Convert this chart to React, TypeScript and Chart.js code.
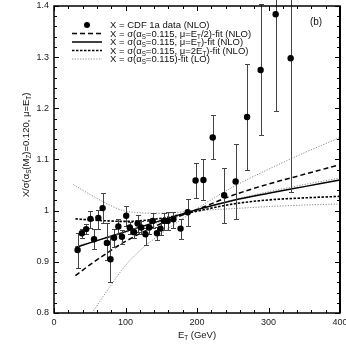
import React, { useEffect, useRef } from "react";
import { Chart, registerables } from "chart.js";

Chart.register(...registerables);

const FONT = "'Liberation Sans', Arial, Helvetica, sans-serif";

// ---- data ----
const dataET = [33, 39, 45, 51, 56, 62, 68, 74, 79, 84, 90, 95, 101, 106, 112, 117, 122, 128, 133, 138, 144, 149, 154, 159, 167, 177, 187, 198, 209, 222, 238, 254, 270, 289, 310, 331];
const dataY = [0.923, 0.956, 0.964, 0.984, 0.944, 0.986, 1.005, 0.937, 0.905, 0.947, 0.969, 0.949, 0.99, 0.967, 0.958, 0.975, 0.967, 0.954, 0.967, 0.98, 0.956, 0.965, 0.98, 0.98, 0.983, 0.965, 0.997, 1.059, 1.06, 1.143, 1.03, 1.057, 1.183, 1.275, 1.384, 1.298];
const errHigh = [0.957, 0.965, 0.973, 0.999, 0.964, 1.001, 1.035, 0.975, 0.951, 0.964, 0.984, 0.963, 1.009, 0.978, 0.967, 0.992, 0.979, 0.967, 0.98, 0.995, 0.969, 0.98, 0.995, 0.997, 0.998, 0.983, 1.022, 1.094, 1.1, 1.186, 1.084, 1.13, 1.286, 1.403, 1.5, 1.5];
const errLow = [0.887, 0.946, 0.955, 0.967, 0.926, 0.964, 0.975, 0.904, 0.86, 0.929, 0.954, 0.935, 0.97, 0.955, 0.947, 0.959, 0.954, 0.933, 0.955, 0.966, 0.943, 0.952, 0.963, 0.962, 0.966, 0.944, 0.97, 1.024, 1.021, 1.1, 0.975, 0.984, 1.08, 1.147, 1.195, 1.036];

const fitX = [30, 50, 75, 100, 150, 200, 250, 300, 350, 400];
const fitHalf = [0.873, 0.894, 0.918, 0.94, 0.975, 1.002, 1.03, 1.052, 1.071, 1.09];
const fitOne = [0.928, 0.937, 0.948, 0.959, 0.981, 1.002, 1.02, 1.034, 1.047, 1.06];
const fitTwo = [0.984, 0.982, 0.98, 0.979, 0.985, 0.999, 1.013, 1.021, 1.025, 1.028];

const loAX = [27, 50, 75, 100, 150, 200, 250, 300, 350, 400];
const loA = [1.051, 1.032, 1.013, 0.999, 0.995, 1.0, 1.004, 1.008, 1.011, 1.013];
const loBX = [53, 75, 100, 125, 150, 175, 200, 250, 300, 350, 400];
const loB = [0.8, 0.845, 0.893, 0.928, 0.955, 0.98, 1.004, 1.046, 1.081, 1.113, 1.143];
const loC = [0.93, 0.938, 0.947, 0.957, 0.979, 1.0, 1.021, 1.037, 1.051, 1.064];

const xMin = 0, xMax = 400, yMin = 0.8, yMax = 1.4;

type Seg = { t: string; sub?: boolean };

const legendRows: { segs: Seg[]; kind: string }[] = [
  { kind: "data", segs: [{ t: "X = CDF 1a data (NLO)" }] },
  { kind: "half", segs: [{ t: "X = σ(α" }, { t: "S", sub: true }, { t: "=0.115, μ=E" }, { t: "T", sub: true }, { t: "/2)-fit (NLO)" }] },
  { kind: "one", segs: [{ t: "X = σ(α" }, { t: "S", sub: true }, { t: "=0.115, μ=E" }, { t: "T", sub: true }, { t: ")-fit (NLO)" }] },
  { kind: "two", segs: [{ t: "X = σ(α" }, { t: "S", sub: true }, { t: "=0.115, μ=2E" }, { t: "T", sub: true }, { t: ")-fit (NLO)" }] },
  { kind: "lo", segs: [{ t: "X = σ(α" }, { t: "S", sub: true }, { t: "=0.115)-fit (LO)" }] },
];
const yTitle: Seg[] = [{ t: "X/σ(α" }, { t: "S", sub: true }, { t: "(M" }, { t: "Z", sub: true }, { t: ")=0.120, μ=E" }, { t: "T", sub: true }, { t: ")" }];
const xTitle: Seg[] = [{ t: "E" }, { t: "T", sub: true }, { t: " (GeV)" }];

const STYLES: Record<string, { dash: number[]; width: number; color: string }> = {
  half: { dash: [5, 3], width: 1.5, color: "#000" },
  one: { dash: [], width: 1.5, color: "#000" },
  two: { dash: [2.5, 1.5], width: 1.6, color: "#000" },
  lo: { dash: [1.2, 1.5], width: 1, color: "#8a8a8a" },
};

function drawRich(ctx: CanvasRenderingContext2D, segs: Seg[], x: number, y: number, size: number, align: "left" | "center") {
  const sub = size * 0.66;
  let w = 0;
  for (const s of segs) {
    ctx.font = `${s.sub ? sub : size}px ${FONT}`;
    w += ctx.measureText(s.t).width;
  }
  let cx = align === "center" ? x - w / 2 : x;
  ctx.textAlign = "left";
  ctx.textBaseline = "alphabetic";
  for (const s of segs) {
    ctx.font = `${s.sub ? sub : size}px ${FONT}`;
    ctx.fillText(s.t, cx, s.sub ? y + size * 0.18 : y);
    cx += ctx.measureText(s.t).width;
  }
}

const pts = (xs: number[], ys: number[]) => xs.map((x, i) => ({ x, y: ys[i] }));

const lineDs = (kind: string, xs: number[], ys: number[]) => ({
  type: "line" as const,
  data: pts(xs, ys),
  showLine: true,
  borderColor: STYLES[kind].color,
  borderWidth: STYLES[kind].width,
  borderDash: STYLES[kind].dash,
  pointRadius: 0,
  fill: false,
  cubicInterpolationMode: "monotone" as const,
});

const errorBarPlugin = {
  id: "errorBars",
  beforeDatasetDraw(chart: any, args: any) {
    if (args.index !== 0) return;
    const ctx = chart.ctx as CanvasRenderingContext2D;
    const xs = chart.scales.x, ys = chart.scales.y;
    ctx.save();
    ctx.strokeStyle = "#444";
    ctx.lineWidth = 1;
    dataET.forEach((e, i) => {
      const px = Math.round(xs.getPixelForValue(e)) + 0.5;
      const pHi = Math.round(ys.getPixelForValue(errHigh[i])) + 0.5;
      const pLo = Math.round(ys.getPixelForValue(errLow[i])) + 0.5;
      ctx.beginPath();
      ctx.moveTo(px, pHi);
      ctx.lineTo(px, pLo);
      ctx.moveTo(px - 2.5, pHi);
      ctx.lineTo(px + 2.5, pHi);
      ctx.moveTo(px - 2.5, pLo);
      ctx.lineTo(px + 2.5, pLo);
      ctx.stroke();
    });
    ctx.restore();
  },
};

const framePlugin = {
  id: "frameAndDecor",
  afterDraw(chart: any) {
    const ctx = chart.ctx as CanvasRenderingContext2D;
    const { left, right, top, bottom } = chart.chartArea;
    const xs = chart.scales.x, ys = chart.scales.y;
    ctx.save();
    ctx.strokeStyle = "#000";
    ctx.lineWidth = 1;
    // ticks, inward, mirrored
    ctx.beginPath();
    xs.ticks.forEach((t: any) => {
      const px = Math.round(xs.getPixelForValue(t.value)) + 0.5;
      const len = Math.round(t.value) % 100 === 0 ? 5 : 3;
      ctx.moveTo(px, bottom); ctx.lineTo(px, bottom - len);
      ctx.moveTo(px, top); ctx.lineTo(px, top + len);
    });
    ys.ticks.forEach((t: any) => {
      const py = Math.round(ys.getPixelForValue(t.value)) + 0.5;
      const len = Math.round(t.value * 50) % 5 === 0 ? 5 : 3;
      ctx.moveTo(left, py); ctx.lineTo(left + len, py);
      ctx.moveTo(right, py); ctx.lineTo(right - len, py);
    });
    ctx.stroke();
    // frame
    ctx.lineWidth = 1.5;
    ctx.strokeRect(left, top, right - left, bottom - top);
    ctx.lineWidth = 2;
    ctx.beginPath();
    ctx.moveTo(right, top); ctx.lineTo(right, bottom);
    ctx.stroke();

    // legend
    const rowY0 = 25, rowDy = 8.5, sx0 = 72, sx1 = 102, tx = 110, fs = 9.5;
    legendRows.forEach((r, i) => {
      const y = rowY0 + i * rowDy;
      if (r.kind === "data") {
        ctx.beginPath();
        ctx.arc((sx0 + sx1) / 2, y, 3, 0, Math.PI * 2);
        ctx.fillStyle = "#000";
        ctx.fill();
      } else {
        const st = STYLES[r.kind];
        ctx.save();
        ctx.strokeStyle = st.color;
        ctx.lineWidth = st.width;
        ctx.setLineDash(st.dash);
        ctx.beginPath();
        ctx.moveTo(sx0, y);
        ctx.lineTo(sx1, y);
        ctx.stroke();
        ctx.restore();
      }
      ctx.fillStyle = "#111";
      drawRich(ctx, r.segs, tx, y + fs * 0.35, fs, "left");
    });

    // panel label
    ctx.fillStyle = "#111";
    ctx.font = `10px ${FONT}`;
    ctx.textAlign = "center";
    ctx.textBaseline = "middle";
    ctx.fillText("(b)", 316, 22);

    // axis titles
    drawRich(ctx, xTitle, (left + right) / 2, 338, 9.5, "center");
    ctx.save();
    ctx.translate(26, 145);
    ctx.rotate(-Math.PI / 2);
    drawRich(ctx, yTitle, 0, 3.3, 9.5, "center");
    ctx.restore();
    ctx.restore();
  },
};

export default function App() {
  const ref = useRef<HTMLCanvasElement | null>(null);

  useEffect(() => {
    if (!ref.current) return;
    const chart = new Chart(ref.current, {
      type: "scatter",
      data: {
        datasets: [
          {
            type: "scatter",
            data: pts(dataET, dataY),
            pointRadius: 3.2,
            pointBackgroundColor: "#000",
            pointBorderColor: "#000",
            pointBorderWidth: 0,
            showLine: false,
          } as any,
          lineDs("half", fitX, fitHalf),
          lineDs("one", fitX, fitOne),
          lineDs("two", fitX, fitTwo),
          lineDs("lo", loAX, loA),
          lineDs("lo", loBX, loB),
          lineDs("lo", fitX, loC),
        ],
      },
      options: {
        animation: false,
        responsive: false,
        maintainAspectRatio: false,
        layout: { padding: { top: 6, right: 6, left: 0, bottom: 0 } },
        plugins: { legend: { display: false }, tooltip: { enabled: false } },
        scales: {
          x: {
            type: "linear",
            min: xMin,
            max: xMax,
            grid: { display: false, drawTicks: false },
            border: { display: false },
            ticks: {
              stepSize: 20,
              autoSkip: false,
              maxRotation: 0,
              padding: 4,
              color: "#222",
              font: { family: FONT, size: 9 },
              callback: (v: any) => (Math.round(Number(v)) % 100 === 0 ? String(Math.round(Number(v))) : ""),
            },
            afterFit: (s: any) => {
              s.height = 33;
              s.paddingLeft = 0; s.paddingRight = 0; s.paddingTop = 0; s.paddingBottom = 0;
            },
          },
          y: {
            type: "linear",
            min: yMin,
            max: yMax,
            grid: { display: false, drawTicks: false },
            border: { display: false },
            ticks: {
              stepSize: 0.02,
              autoSkip: false,
              padding: 5,
              color: "#222",
              font: { family: FONT, size: 9 },
              callback: (v: any) => {
                const k = Math.round(Number(v) * 50);
                return k % 5 === 0 ? String(Math.round(Number(v) * 10) / 10) : "";
              },
            },
            afterFit: (s: any) => {
              s.width = 54;
              s.paddingLeft = 0; s.paddingRight = 0; s.paddingTop = 0; s.paddingBottom = 0;
            },
          },
        },
      } as any,
      plugins: [errorBarPlugin, framePlugin],
    });
    return () => chart.destroy();
  }, []);

  return (
    <div style={{ position: "fixed", left: 0, top: 0, width: 346, height: 346, background: "#fff" }}>
      <canvas ref={ref} width={346} height={346} style={{ width: 346, height: 346, display: "block" }} />
    </div>
  );
}
